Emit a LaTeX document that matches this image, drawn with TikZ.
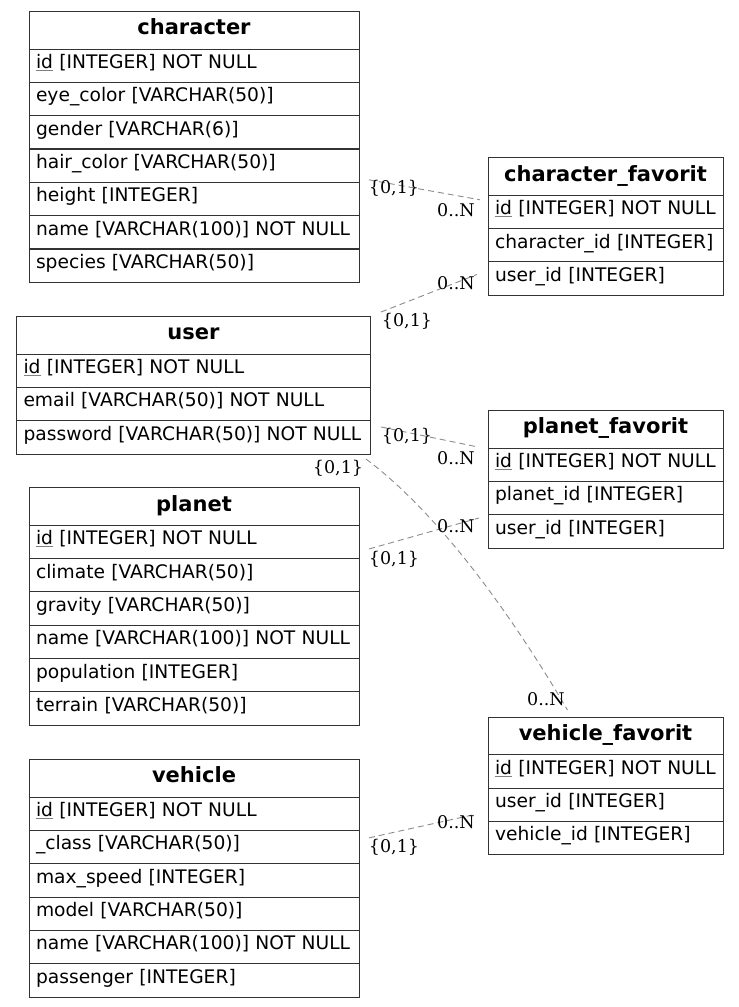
\documentclass[tikz,border=0pt]{standalone}
\usepackage{fontspec}
\setmainfont{DejaVu Sans}
\newfontfamily\lblfont{DejaVu Serif}
\usetikzlibrary{calc}
\newcommand\pkey[1]{{\color{black!50}\underline{\color{black}#1}}}
\newcommand\ertable[6]{% name, left, top, width, title, rows
  \pgfmathsetmacro\ertw{#4-14}%
  \node[hdrcell, text width=\ertw pt] (#1) at (#2,#3) {#5};
  \foreach [count=\i] \r in {#6} {
    \node[rowcell, text width=\ertw pt] (#1-\i) at (#2,{#3+37.5+(\i-1)*33.333}) {\r};
  }
}
\begin{document}
\begin{tikzpicture}[x=1pt,y=-1pt,
  cell/.style={draw=black!80, line width=1pt, inner xsep=7pt, inner ysep=0pt,
    anchor=north west, font=\fontsize{18.67}{22}\selectfont},
  hdrcell/.style={cell, text height=23.3pt, text depth=14.2pt,
    font=\fontsize{21}{25}\selectfont\bfseries, align=center},
  rowcell/.style={cell, text height=19.6pt, text depth=13.73pt, align=left},
  rel/.style={draw=black!45, line width=0.9pt, dash pattern=on 6pt off 4pt},
  card/.style={font=\lblfont\fontsize{17.5}{21}\selectfont, inner sep=0pt}
]
\useasboundingbox[fill=white] (0,0) rectangle (739,1007);

\ertable{character}{28.5}{11}{330}{character}{%
  \pkey{id} [INTEGER] NOT NULL,
  eye\_color [VARCHAR(50)],
  gender [VARCHAR(6)],
  hair\_color [VARCHAR(50)],
  height [INTEGER],
  name [VARCHAR(100)] NOT NULL,
  species [VARCHAR(50)]}

\ertable{user}{16}{316}{354}{user}{%
  \pkey{id} [INTEGER] NOT NULL,
  email [VARCHAR(50)] NOT NULL,
  password [VARCHAR(50)] NOT NULL}

\ertable{planet}{28.5}{487.3}{330}{planet}{%
  \pkey{id} [INTEGER] NOT NULL,
  climate [VARCHAR(50)],
  gravity [VARCHAR(50)],
  name [VARCHAR(100)] NOT NULL,
  population [INTEGER],
  terrain [VARCHAR(50)]}

\ertable{vehicle}{28.5}{759}{330}{vehicle}{%
  \pkey{id} [INTEGER] NOT NULL,
  \_class [VARCHAR(50)],
  max\_speed [INTEGER],
  model [VARCHAR(50)],
  name [VARCHAR(100)] NOT NULL,
  passenger [INTEGER]}

\ertable{chfav}{487.5}{157.3}{235}{character\_favorit}{%
  \pkey{id} [INTEGER] NOT NULL,
  character\_id [INTEGER],
  user\_id [INTEGER]}

\ertable{plfav}{487.5}{410}{235}{planet\_favorit}{%
  \pkey{id} [INTEGER] NOT NULL,
  planet\_id [INTEGER],
  user\_id [INTEGER]}

\ertable{vefav}{487.5}{716.7}{235}{vehicle\_favorit}{%
  \pkey{id} [INTEGER] NOT NULL,
  user\_id [INTEGER],
  vehicle\_id [INTEGER]}

% connector end points
\coordinate (e1a) at ($(character-5.north east)+(9.5,-2)$);
\coordinate (e1b) at ($(chfav-1.north west)+(-7.5,5)$);
\coordinate (e2a) at ($(user.north east)+(10,-4)$);
\coordinate (e2b) at ($(chfav-3.north west)+(-10.5,13)$);
\coordinate (e3a) at ($(user-3.north east)+(10,6.8)$);
\coordinate (e3b) at ($(plfav-1.north west)+(-9.5,-0.5)$);
\coordinate (e4a) at ($(user-3.south east)+(-5,4.5)$);
\coordinate (e4b) at ($(vefav.north)+(-38,-6.7)$);
\coordinate (e5a) at ($(planet-1.east)+(9.5,7)$);
\coordinate (e5b) at ($(plfav-3.north west)+(-8.5,3.8)$);
\coordinate (e6a) at ($(vehicle-2.north east)+(9.5,8)$);
\coordinate (e6b) at ($(vefav-3.north west)+(-15.5,-5.8)$);

\draw[rel] (e1a) -- (e1b);
\draw[rel] (e2a) -- (e2b);
\draw[rel] (e3a) -- (e3b);
\draw[rel] (e4a) .. controls ($(e4a)+(70,52.5)$) and ($(e4b)+(-60,-102)$) .. (e4b);
\draw[rel] (e5a) -- (e5b);
\draw[rel] (e6a) -- (e6b);

% cardinality labels
\node[card] (l1a) at (394,188) {\{0,1\}};
\node[card] (l1b) at (456,210) {0..N};
\node[card] (l2b) at (456,283) {0..N};
\node[card] (l2a) at (407,321) {\{0,1\}};
\node[card] (l3a) at (407,436) {\{0,1\}};
\node[card] (l3b) at (456,458) {0..N};
\node[card] (l4a) at (338,468) {\{0,1\}};
\node[card] (l4b) at (546,699) {0..N};
\node[card] (l5b) at (456,526) {0..N};
\node[card] (l5a) at (394,559) {\{0,1\}};
\node[card] (l6b) at (456,822) {0..N};
\node[card] (l6a) at (394,847) {\{0,1\}};
\end{tikzpicture}
\end{document}
